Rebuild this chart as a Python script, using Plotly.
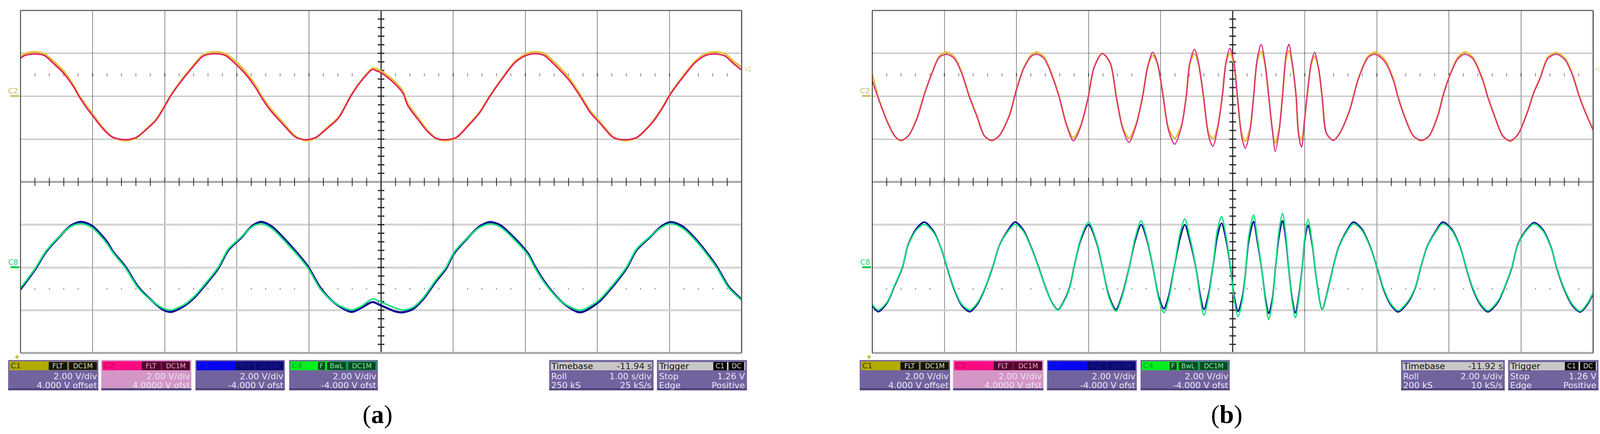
import plotly.graph_objects as go

W = 4120
H = 1110

# panel (a), 1 s/div, upper pair of traces
t_a_up = [-5.0,-4.94,-4.81,-4.67,-4.55,-4.40,-4.26,-4.19,-4.08,-4.01,-3.87,-3.73,-3.55,-3.40,-3.26,-3.12,-3.01,-2.92,-2.80,-2.62,-2.48,-2.41,-2.29,-2.16,-2.01,-1.87,-1.73,-1.67,-1.55,-1.37,-1.19,-1.05,-0.91,-0.77,-0.59,-0.42,-0.30,-0.12,-0.07,0,0.16,
          0.30,0.37,0.51,0.65,0.76,0.88,1.04,1.22,1.37,1.51,1.69,1.86,2.01,2.13,2.26,2.43,2.61,2.76,2.90,3.04,3.22,3.38,3.54,3.75,3.90,4.01,4.18,4.36,4.50,4.63,4.77,4.89,5.0]
c2_a = [1.77,1.90,1.97,1.90,1.55,1.06,0.41,0,-0.56,-0.86,-1.47,-1.90,-2.03,-1.93,-1.57,-1.12,-0.53,0,0.57,1.32,1.84,1.94,1.98,1.90,1.48,0.99,0.34,0,-0.60,-1.28,-1.90,-2.03,-1.93,-1.57,-1.02,0,0.60,1.25,1.19,1.09,0.67,
        0.15,-0.44,-1.08,-1.67,-1.96,-2.03,-1.93,-1.34,-0.76,0,0.86,1.58,1.90,1.98,1.90,1.38,0.73,0,-0.76,-1.28,-1.93,-2.03,-1.93,-1.28,-0.56,0.08,0.86,1.58,1.90,1.97,1.87,1.51,1.22]
c1_a = [1.82,1.98,2.06,1.98,1.65,1.16,0.48,0.06,-0.48,-0.80,-1.42,-1.90,-2.07,-1.96,-1.55,-1.08,-0.50,0.02,0.60,1.37,1.90,2.01,2.06,1.98,1.60,1.10,0.44,0.08,-0.50,-1.20,-1.86,-2.07,-1.96,-1.53,-0.98,0.02,0.62,1.30,1.28,1.17,0.77,
        0.25,-0.34,-1.00,-1.62,-1.96,-2.07,-1.95,-1.30,-0.72,0.02,0.89,1.62,1.97,2.06,1.99,1.50,0.84,0.08,-0.68,-1.22,-1.90,-2.07,-1.95,-1.25,-0.53,0.10,0.90,1.64,1.97,2.06,1.97,1.62,1.35]

# panel (a), lower pair
t_a_lo = [-5.0,-4.90,-4.79,-4.65,-4.47,-4.30,-4.16,-4.01,-3.80,-3.72,-3.55,-3.37,-3.19,-3.01,-2.91,-2.73,-2.58,-2.44,-2.26,-2.12,-1.94,-1.78,-1.66,-1.52,-1.27,-1.02,-0.84,-0.66,-0.41,-0.27,-0.12,0,0.20,
          0.30,0.44,0.58,0.76,0.90,1.01,1.19,1.37,1.51,1.65,1.83,2.04,2.13,2.29,2.51,2.76,3.01,3.18,3.40,3.54,3.72,3.90,4.02,4.18,4.40,4.65,4.82,5.0]
c4_a = [-0.95,-0.53,-0.01,0.75,1.42,1.92,2.05,1.87,1.11,0.70,0,-0.95,-1.53,-1.93,-1.99,-1.74,-1.32,-0.77,0,0.85,1.42,1.92,2.05,1.84,0.99,0,-1.02,-1.62,-1.99,-1.81,-1.47,-1.62,-1.90,
        -1.99,-1.87,-1.44,-0.59,0,0.70,1.36,1.88,2.04,1.90,1.36,0.57,0,-0.83,-1.62,-2.0,-1.56,-0.95,0,0.85,1.42,1.90,2.05,1.84,1.11,0,-0.95,-1.53]
c3_a = [-1.02,-0.58,-0.06,0.71,1.40,1.96,2.13,1.95,1.20,0.75,0.06,-0.90,-1.52,-2.00,-2.08,-1.80,-1.38,-0.83,-0.06,0.80,1.39,1.96,2.13,1.93,1.08,0.07,-0.96,-1.62,-2.08,-1.88,-1.62,-1.78,-2.06,
        -2.10,-1.95,-1.50,-0.66,-0.06,0.65,1.34,1.93,2.12,1.98,1.44,0.64,0.07,-0.78,-1.62,-2.10,-1.64,-1.02,-0.06,0.80,1.39,1.95,2.12,1.92,1.18,0.07,-0.90,-1.50]

# panel (b), 2 s/div, upper pair
t_b_up = [-10.0,-9.80,-9.59,-9.38,-9.21,-9.00,-8.76,-8.55,-8.34,-8.14,-7.94,-7.72,-7.51,-7.31,-7.10,-6.89,-6.69,-6.48,-6.20,-5.99,-5.79,-5.58,-5.43,-5.23,-5.03,-4.82,-4.61,-4.42,-4.23,-4.02,-3.85,-3.62,-3.40,-3.23,-3.06,-2.88,-2.68,-2.50,-2.36,-2.22,-2.09,-1.95,-1.78,-1.61,-1.43,-1.29,-1.19,-1.06,-0.95,-0.81,-0.67,-0.55,-0.43,-0.29,-0.19,-0.08,
          0.03,0.13,0.25,0.35,0.48,0.58,0.68,0.79,0.89,1.00,1.10,1.18,1.29,1.38,1.48,1.56,1.65,1.76,1.83,1.91,2.00,2.10,2.18,2.27,2.38,2.48,2.60,2.79,2.97,3.24,3.35,3.48,3.76,3.95,4.21,4.45,4.58,4.76,5.01,5.23,5.45,5.70,5.83,6.01,6.25,6.44,6.66,6.94,7.07,7.25,7.49,7.70,7.91,8.19,8.34,8.53,8.74,8.98,9.22,9.43,9.61,9.78,10.0]
c2_b = [0.71,-0.26,-1.18,-1.85,-2.06,-1.85,-1.05,0.10,1.08,1.81,1.96,1.75,1.02,-0.02,-0.93,-1.85,-2.06,-1.85,-0.93,0.35,1.32,1.87,1.96,1.75,1.02,-0.02,-1.36,-2.09,-1.48,-0.14,1.32,1.99,1.57,-0.02,-1.48,-2.15,-1.36,-0.02,1.38,2.05,1.57,0.23,-1.60,-2.24,-1.48,-0.02,1.57,2.19,1.57,-0.02,-1.85,-2.34,-1.60,-0.02,1.57,2.24,
        1.63,-0.02,-1.91,-2.43,-1.60,-0.02,1.75,2.41,1.63,-0.02,-1.60,-2.58,-1.60,-0.02,1.93,2.42,1.57,-0.02,-1.85,-2.37,-1.0,0.59,1.57,2.05,1.32,-0.02,-1.73,-2.06,-1.73,-0.69,-0.02,0.77,1.81,1.96,1.63,0.77,-0.02,-0.93,-1.85,-2.06,-1.85,-0.87,-0.02,0.90,1.75,1.96,1.75,0.71,-0.02,-0.87,-1.85,-2.08,-1.79,-0.69,0.10,0.84,1.75,1.96,1.69,0.96,0,-0.75,-1.60]
c1_b = [1.00,-0.22,-1.14,-1.85,-2.08,-1.85,-1.02,0.13,1.10,1.87,2.05,1.82,1.08,0.02,-0.90,-1.85,-2.08,-1.85,-0.90,0.37,1.35,1.94,2.05,1.82,1.08,0.02,-1.32,-1.94,-1.42,-0.14,1.32,2.00,1.55,-0.02,-1.40,-1.96,-1.30,-0.02,1.35,1.90,1.50,0.20,-1.50,-1.96,-1.40,-0.02,1.50,1.99,1.50,-0.02,-1.70,-1.99,-1.50,-0.02,1.50,2.02,
        1.55,-0.02,-1.75,-2.09,-1.50,-0.02,1.65,2.08,1.55,-0.02,-1.55,-2.19,-1.50,-0.02,1.75,2.11,1.50,-0.02,-1.75,-2.05,-1.0,0.55,1.50,1.87,1.30,0.0,-1.73,-2.06,-1.73,-0.66,0.0,0.80,1.87,2.05,1.72,0.83,0.03,-0.90,-1.85,-2.08,-1.85,-0.84,0.0,0.92,1.82,2.05,1.82,0.77,0.02,-0.85,-1.85,-2.10,-1.79,-0.66,0.12,0.86,1.80,2.03,1.76,1.02,0.03,-0.72,-1.55]

# panel (b), lower pair
t_b_lo = [-10.0,-9.83,-9.59,-9.38,-9.17,-9.00,-8.76,-8.55,-8.31,-8.07,-7.92,-7.72,-7.51,-7.29,-7.07,-6.86,-6.67,-6.48,-6.27,-6.04,-5.82,-5.58,-5.39,-5.23,-5.03,-4.85,-4.65,-4.51,-4.40,-4.23,-4.00,-3.78,-3.61,-3.44,-3.24,-3.06,-2.87,-2.71,-2.54,-2.36,-2.21,-2.05,-1.91,-1.78,-1.62,-1.47,-1.33,-1.19,-1.02,-0.91,-0.80,-0.67,-0.55,-0.43,-0.31,
          -0.18,-0.06,0.04,0.15,0.27,0.34,0.44,0.58,0.68,0.80,0.91,1.00,1.10,1.19,1.27,1.38,1.48,1.55,1.65,1.74,1.83,1.93,2.00,2.09,2.21,2.31,2.48,2.65,2.79,2.93,3.14,3.35,3.59,3.83,4.01,4.18,4.38,4.59,4.87,5.07,5.21,5.39,5.59,5.83,6.08,6.32,6.48,6.66,6.87,7.08,7.36,7.56,7.74,7.91,8.12,8.36,8.60,8.84,8.99,9.19,9.43,9.64,9.84,10.0]
c4_b = [-1.74,-1.99,-1.62,-0.83,0,1.05,1.78,2.02,1.66,0.81,0,-1.02,-1.74,-1.99,-1.62,-0.89,0,0.99,1.60,2.02,1.72,0.87,0,-0.77,-1.62,-2.00,-1.50,-0.89,0,1.29,2.12,1.23,0,-1.38,-2.05,-1.32,0,1.36,2.18,1.23,0,-1.50,-2.12,-1.50,0,1.54,2.27,1.42,0,-1.38,-2.23,-1.38,0,1.72,2.38,
        1.42,0,-1.50,-2.30,-1.50,-0.53,1.42,2.46,1.42,0,-1.62,-2.44,-1.62,0,1.54,2.54,1.42,0,-1.62,-2.36,-1.50,0,1.42,2.24,1.11,-0.41,-1.98,-1.02,0,0.87,1.60,2.05,1.72,0.87,0,-0.95,-1.68,-2.02,-1.56,-0.89,0,0.93,1.54,2.05,1.72,0.87,0,-0.95,-1.68,-2.02,-1.56,-0.83,0,1.05,1.66,2.04,1.72,0.87,0,-0.95,-1.74,-2.04,-1.68,-1.17]
c3_b = [-1.80,-2.07,-1.66,-0.86,-0.03,1.08,1.85,2.12,1.72,0.80,-0.03,-1.06,-1.80,-2.07,-1.68,-0.92,-0.03,1.00,1.65,2.12,1.78,0.90,0.03,-0.75,-1.60,-1.98,-1.46,-0.85,0.02,1.22,2.00,1.18,-0.02,-1.30,-1.97,-1.25,0.02,1.24,2.00,1.16,-0.02,-1.40,-1.93,-1.36,0.02,1.30,2.00,1.25,-0.02,-1.22,-1.96,-1.24,0.02,1.42,2.07,
        1.25,-0.02,-1.35,-2.06,-1.36,-0.50,1.20,2.15,1.25,-0.02,-1.48,-2.15,-1.48,0.02,1.30,2.18,1.22,-0.02,-1.48,-2.12,-1.36,0.02,1.30,1.96,1.02,-0.40,-1.96,-0.98,0.03,0.90,1.65,2.12,1.78,0.90,-0.03,-1.00,-1.74,-2.08,-1.62,-0.92,-0.03,0.95,1.58,2.12,1.78,0.90,-0.03,-1.00,-1.74,-2.08,-1.62,-0.86,-0.03,1.08,1.70,2.10,1.78,0.90,-0.03,-1.00,-1.80,-2.08,-1.74,-1.22]

for a, b in [(t_a_up, c1_a), (t_a_up, c2_a), (t_a_lo, c3_a), (t_a_lo, c4_a),
             (t_b_up, c1_b), (t_b_up, c2_b), (t_b_lo, c3_b), (t_b_lo, c4_b)]:
    assert len(a) == len(b), (len(a), len(b))

# status box texts
ch_names = ["C1", "C2", "C3", "C4"]
ch_scale = ["2.00 V/div"] * 4
ch_offset = ["4.000 V offset", "4.0000 V ofst", "-4.000 V ofst", "-4.000 V ofst"]
tb_a = ["Timebase", "-11.94 s", "Roll", "1.00 s/div", "250 kS", "25 kS/s"]
tb_b = ["Timebase", "-11.92 s", "Roll", "2.00 s/div", "200 kS", "10 kS/s"]
trig = ["Trigger", "Stop", "1.26 V", "Edge", "Positive"]


def px(x):
    return x / W


def py(y):
    return 1 - y / H


TOP, MID, BOTTOM = 26.7, 465.3, 902.7
fig = go.Figure()
shapes = []
notes = []


def rect(x0, x1, y0, y1, fill, line=None, lw=0):
    shapes.append(dict(type="rect", xref="paper", yref="paper", x0=px(x0), x1=px(x1), y0=py(y1), y1=py(y0),
                       fillcolor=fill, line=dict(color=line or fill, width=lw)))


def text(x, y, s, color="#e9e5f2", size=22, anchor="right", family="DejaVu Sans"):
    notes.append(dict(xref="paper", yref="paper", x=px(x), y=py(y), text=s, showarrow=False, xanchor=anchor,
                      yanchor="middle", font=dict(color=color, size=size, family=family), borderpad=0, borderwidth=0))


def draw_screen(n, x0, x1, half):
    xname = "x" if n == 1 else "x2"
    yu = "y" if n == 1 else "y3"
    yl = "y2" if n == 1 else "y4"
    xk = "xaxis" if n == 1 else "xaxis2"
    yuk = "yaxis" if n == 1 else "yaxis3"
    ylk = "yaxis2" if n == 1 else "yaxis4"
    fig.update_layout({
        xk: dict(domain=[px(x0), px(x1)], range=[-half, half], anchor=yl, dtick=half / 5, tick0=0, showgrid=True,
                 gridcolor="#8c8c8c", gridwidth=2, zeroline=False, showticklabels=False, ticks=""),
        yuk: dict(domain=[py(MID), py(TOP)], range=[-4, 4], anchor=xname, tickvals=[-2, 0, 2], showgrid=True,
                  gridcolor="#555555", gridwidth=2, griddash="2px,2px", zeroline=False, showticklabels=False, ticks=""),
        ylk: dict(domain=[py(BOTTOM), py(MID)], range=[-4, 4], anchor=xname, tickvals=[-2, 0, 2], showgrid=True,
                  gridcolor="#a8a8a8", gridwidth=5, griddash="2px,2px", zeroline=False, showticklabels=False, ticks=""),
    })
    # mid axis, frame
    shapes.append(dict(type="line", xref=xname + " domain", x0=0, x1=1, yref=yl + " domain", y0=1, y1=1,
                       line=dict(color="#a6a6a6", width=5), layer="below"))
    shapes.append(dict(type="line", xref=xname + " domain", x0=0, x1=1, yref=yu + " domain", y0=1, y1=1,
                       line=dict(color="#666666", width=3)))
    shapes.append(dict(type="line", xref=xname + " domain", x0=0, x1=1, yref=yl + " domain", y0=0, y1=0,
                       line=dict(color="#a6a6a6", width=5)))
    shapes.append(dict(type="line", xref=xname + " domain", x0=0, x1=0, yref="paper", y0=py(BOTTOM), y1=py(TOP),
                       line=dict(color="#222222", width=2)))
    shapes.append(dict(type="line", xref=xname + " domain", x0=1, x1=1, yref="paper", y0=py(BOTTOM), y1=py(TOP),
                       line=dict(color="#555555", width=3)))
    # ticks along the centre lines
    step = half / 25
    xt = [i * step for i in range(-24, 25) if i % 5 != 0]
    xmaj = [i * step for i in range(-20, 21, 5)]
    fig.add_trace(go.Scatter(x=xt + xmaj, y=[-4] * (len(xt) + len(xmaj)), xaxis=xname, yaxis=yu, mode="markers", cliponaxis=False,
                             marker=dict(symbol="line-ns", size=15, line=dict(color="#222222", width=2)), showlegend=False))
    fig.add_trace(go.Scatter(x=xt, y=[1] * len(xt), xaxis=xname, yaxis=yu, mode="markers",
                             marker=dict(symbol="line-ns", size=6, line=dict(color="#888888", width=2)), showlegend=False))
    fig.add_trace(go.Scatter(x=xmaj, y=[1] * len(xmaj), xaxis=xname, yaxis=yu, mode="markers",
                             marker=dict(symbol="line-ns", size=6, line=dict(color="#222222", width=2)), showlegend=False))
    fig.add_trace(go.Scatter(x=xt, y=[-1] * len(xt), xaxis=xname, yaxis=yl, mode="markers",
                             marker=dict(symbol="line-ns", size=2, line=dict(color="#555555", width=2)), showlegend=False))
    yt = [i * 0.4 for i in range(-9, 10)]
    for ya in (yu, yl):
        fig.add_trace(go.Scatter(x=[0, 0], y=[-4, 4], xaxis=xname, yaxis=ya, mode="lines", cliponaxis=False,
                                 line=dict(color="#111111", width=2.5), showlegend=False))
        fig.add_trace(go.Scatter(x=[0] * len(yt), y=yt, xaxis=xname, yaxis=ya, mode="markers",
                                 marker=dict(symbol="line-ew", size=12, line=dict(color="#222222", width=3)), showlegend=False))
    return xname, yu, yl


def add_traces(xname, yu, yl, t_up, c1, c2, t_lo, c3, c4, c2_col, c2_w, c3_w, c4_w):
    fig.add_trace(go.Scatter(x=t_up, y=c1, xaxis=xname, yaxis=yu, mode="lines", name="C1", showlegend=False,
                             line=dict(color="#e3bf3a", width=c2_w + 1.5, shape="spline", smoothing=0.8)))
    fig.add_trace(go.Scatter(x=t_up, y=c2, xaxis=xname, yaxis=yu, mode="lines", name="C2", showlegend=False,
                             line=dict(color=c2_col, width=c2_w, shape="spline", smoothing=0.8)))
    fig.add_trace(go.Scatter(x=t_lo, y=c3, xaxis=xname, yaxis=yl, mode="lines", name="C3", showlegend=False,
                             line=dict(color="#0c0c96", width=c3_w, shape="spline", smoothing=0.8)))
    fig.add_trace(go.Scatter(x=t_lo, y=c4, xaxis=xname, yaxis=yl, mode="lines", name="C4", showlegend=False,
                             line=dict(color="#14e27a", width=c4_w, shape="spline", smoothing=0.8)))


def channel_box(i, x0, x1):
    y0, y1 = 921, 998
    body = "#72639f"
    head = ["#b3aa00", "#ff0a82", "#0505f0", "#05ee20"][i]
    tail = ["#86804a", "#7e1050", "#14148c", "#0aa060"][i]
    label = ["#3a3800", "#c0004c", "#1a1ae0", "#00a030"][i]
    tag_bg = ["#14140a", "#50062c", "#0a0a70", "#064a20"][i]
    tag_fg = ["#dcdcb0", "#e8a0c4", "#1a1a98", "#80e8a0"][i]
    if i == 1:
        body = "#d496c6"
    rect(x0 - 1, x1 + 1, y0 - 1, y1 + 2, "#e6e0f0")
    rect(x0, x1, y0, y1, body)
    rect(x0, x1, y1 - 5, y1, "#4c4278")
    rect(x0 + 3, x1 - 3, y0 + 3, y0 + 26, tail)
    rect(x0 + 3, x0 + 0.45 * (x1 - x0), y0 + 3, y0 + 26, head)
    text(x0 + 6, y0 + 14, ch_names[i], color=label, size=20, anchor="left")
    width = x1 - x0
    if i == 3:
        tags = [("F", 0.325, 0.405), ("BwL", 0.427, 0.642), ("DC1M", 0.667, 0.975)]
    else:
        tags = [("FLT", 0.45, 0.655), ("DC1M", 0.675, 0.985)]
    for s, a, b in tags:
        rect(x0 + a * width, x0 + b * width, y0 + 5, y0 + 25, tag_bg)
        text(x0 + (a + b) / 2 * width, y0 + 15, s, color=tag_fg, size=17, anchor="center")
    text(x1 - 3, 962, ch_scale[i])
    text(x1 - 3, 985, ch_offset[i])


def info_box(x0, x1, head_left, head_right, rows, tags=None):
    y0, y1 = 921, 998
    rect(x0 - 1, x1 + 1, y0 - 1, y1 + 2, "#e0daee")
    rect(x0, x1, y0, y1, "#72639f")
    rect(x0, x1, y1 - 5, y1, "#4c4278")
    rect(x0 + 4, x1 - 4, y0 + 5, y0 + 26, "#c8c8c8")
    text(x0 + 5, y0 + 15, head_left, color="#111111", anchor="left")
    if head_right:
        text(x1 - 5, y0 + 15, head_right, color="#222222")
    if tags:
        for s, a, b in tags:
            rect(x1 - a, x1 - b, y0 + 5, y0 + 26, "#050505")
            text(x1 - (a + b) / 2, y0 + 15, s, color="#d8d8d8", size=17, anchor="center")
    for j, (left, right) in enumerate(rows):
        text(x0 + 5, 962 + 23 * j, left, anchor="left")
        text(x1 - 5, 962 + 23 * j, right)


def markers(x_ax, x_lab, x_right, x_arrow):
    text(x_lab, 232, "C2", color="#c9b866", size=19, anchor="center")
    rect(x_ax - 26, x_ax - 3, 243, 248, "#c6c46e")
    text(x_lab, 670, "C8", color="#25d07c", size=19, anchor="center")
    rect(x_ax - 26, x_ax - 3, 681, 686, "#12d050")
    text(x_right, 175, "◁", color="#c9c45a", size=20, anchor="center")
    text(x_arrow, 912, "◆", color="#c9c45a", size=15, anchor="center")


# panel a
xn, yu, yl = draw_screen(1, 52.5, 1898.6, 5)
add_traces(xn, yu, yl, t_a_up, c1_a, c2_a, t_a_lo, c3_a, c4_a, "#e3185f", 3.5, 5.5, 4)
# panel b
xn, yu, yl = draw_screen(2, 2233, 4078.5, 10)
add_traces(xn, yu, yl, t_b_up, c1_b, c2_b, t_b_lo, c3_b, c4_b, "#dc2a86", 3, 4, 3.5)

for i, (a, b) in enumerate([(21, 251.5), (259.5, 489.5), (500.5, 729), (740.5, 967)]):
    channel_box(i, a, b)
for i, (a, b) in enumerate([(2201, 2432), (2440, 2671), (2680.5, 2910), (2920, 3148)]):
    channel_box(i, a, b)

trig_tags = [("C1", 86, 51), ("DC", 47, 7)]
info_box(1406, 1673, tb_a[0], tb_a[1], [(tb_a[2], tb_a[3]), (tb_a[4], tb_a[5])])
info_box(1682, 1912, trig[0], None, [(trig[1], trig[2]), (trig[3], trig[4])], trig_tags)
info_box(3587, 3852, tb_b[0], tb_b[1], [(tb_b[2], tb_b[3]), (tb_b[4], tb_b[5])])
info_box(3861, 4092, trig[0], None, [(trig[1], trig[2]), (trig[3], trig[4])], trig_tags)

markers(52.5, 33, 1913, 44)
markers(2233, 2214, 4091, 2225)

text(966, 1060, "(<b>a</b>)", color="#000000", size=66, anchor="center", family="Liberation Serif")
text(3140, 1060, "(<b>b</b>)", color="#000000", size=66, anchor="center", family="Liberation Serif")

fig.update_layout(width=W, height=H, autosize=False, margin=dict(l=0, r=0, t=0, b=0),
                  paper_bgcolor="white", plot_bgcolor="white", showlegend=False,
                  shapes=shapes, annotations=notes)

fig.write_html("out.html", config={"displayModeBar": False},
               post_script="document.body.style.margin='0';document.body.style.overflow='hidden';")
